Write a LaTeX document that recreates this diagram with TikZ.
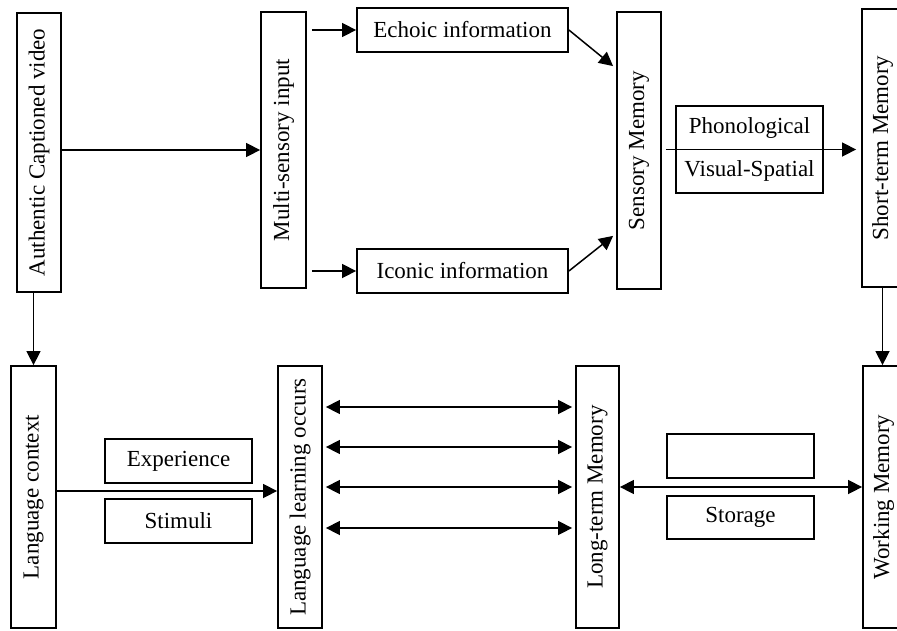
\documentclass[tikz,border=0pt]{standalone}
\usepackage{fontspec}
\setmainfont{Liberation Serif}
\usetikzlibrary{arrows.meta,calc}
\tikzset{
  box/.style={draw, line width=1.8pt, inner sep=0pt, font=\fontsize{23}{27}\selectfont},
  txt/.style={inner sep=0pt, font=\fontsize{23}{27}\selectfont},
  arr/.style={line width=1.5pt, -{Triangle[length=14pt,width=14pt]}},
  darr/.style={line width=1.5pt, {Triangle[length=14pt,width=14pt]}-{Triangle[length=14pt,width=14pt]}}
}
\begin{document}
\begin{tikzpicture}[x=1pt,y=-1pt]
\useasboundingbox (0,0) rectangle (897,630);
\clip (0,0) rectangle (897,630);
% top row
\node[box, minimum width=44pt, minimum height=279pt] (acv) at (39,152.5) {\rotatebox{90}{Authentic Captioned video}};
\node[box, minimum width=45pt, minimum height=276pt] (msi) at (283.5,150) {\rotatebox{90}{Multi-sensory input}};
\node[box, minimum width=211pt, minimum height=44pt] (echo) at (462.5,30) {Echoic information};
\node[box, minimum width=211pt, minimum height=44pt] (icon) at (462.5,271) {Iconic information};
\node[box, minimum width=44pt, minimum height=277pt] (sens) at (639,150.5) {\rotatebox{90}{Sensory Memory}};
\node[box, minimum width=147pt, minimum height=87pt] (pv) at (749.5,149.5) {};
\node[txt] (phon) at (749.5,128) {Phonological};
\node[txt] (vis) at (749.5,171) {Visual-Spatial};
\node[box, minimum width=41pt, minimum height=278pt] (stm) at (882.5,148) {\rotatebox{90}{Short-term Memory}};
% bottom row
\node[box, minimum width=45pt, minimum height=262pt] (lc) at (33.5,497) {\rotatebox{90}{Language context}};
\node[box, minimum width=147pt, minimum height=44pt] (exp) at (178.5,461) {Experience};
\node[box, minimum width=147pt, minimum height=44pt] (stim) at (178.5,521) {Stimuli};
\node[box, minimum width=44pt, minimum height=262pt] (ll) at (300,497) {\rotatebox{90}{Language learning occurs}};
\node[box, minimum width=43pt, minimum height=262pt] (ltm) at (597.5,497) {\rotatebox{90}{Long-term Memory}};
\node[box, minimum width=147pt, minimum height=44pt] (empty) at (740.5,456) {};
\node[box, minimum width=147pt, minimum height=43pt] (stor) at (740.5,517.5) {Storage};
\node[box, minimum width=41pt, minimum height=262pt] (wm) at (883.5,497) {\rotatebox{90}{Working Memory}};
% connectors top
\draw[arr] (acv.east |- msi.west) -- (msi.west);
\draw[arr] ([xshift=5pt]msi.east |- echo.west) -- (echo.west);
\draw[arr] ([xshift=5pt]msi.east |- icon.west) -- (icon.west);
\draw[arr] (echo.east) -- ([xshift=-3pt,yshift=-55pt]sens.north west);
\draw[arr] (icon.east) -- ([xshift=-3pt,yshift=54pt]sens.south west);
\draw[arr] ([xshift=4pt]sens.east |- pv.center) -- ([xshift=-5pt]stm.west |- pv.center);
\draw[arr] (stm.south) -- (stm.south |- wm.north);
\draw[arr] (acv.south -| lc.north) -- (lc.north);
% connectors bottom
\coordinate (mid1) at ($(exp.south)!0.5!(stim.north)$);
\draw[arr] (lc.east |- mid1) -- (ll.west |- mid1);
\draw[darr, shorten <=3pt, shorten >=3pt] ([yshift=90pt]ll.east) -- ([yshift=90pt]ll.east -| ltm.west);
\draw[darr, shorten <=3pt, shorten >=3pt] ([yshift=50pt]ll.east) -- ([yshift=50pt]ll.east -| ltm.west);
\draw[darr, shorten <=3pt, shorten >=3pt] ([yshift=10pt]ll.east) -- ([yshift=10pt]ll.east -| ltm.west);
\draw[darr, shorten <=3pt, shorten >=3pt] ([yshift=-31pt]ll.east) -- ([yshift=-31pt]ll.east -| ltm.west);
\coordinate (mid2) at ($(empty.south)!0.5!(stor.north)$);
\draw[darr] (ltm.east |- mid2) -- (wm.west |- mid2);
\end{tikzpicture}
\end{document}
